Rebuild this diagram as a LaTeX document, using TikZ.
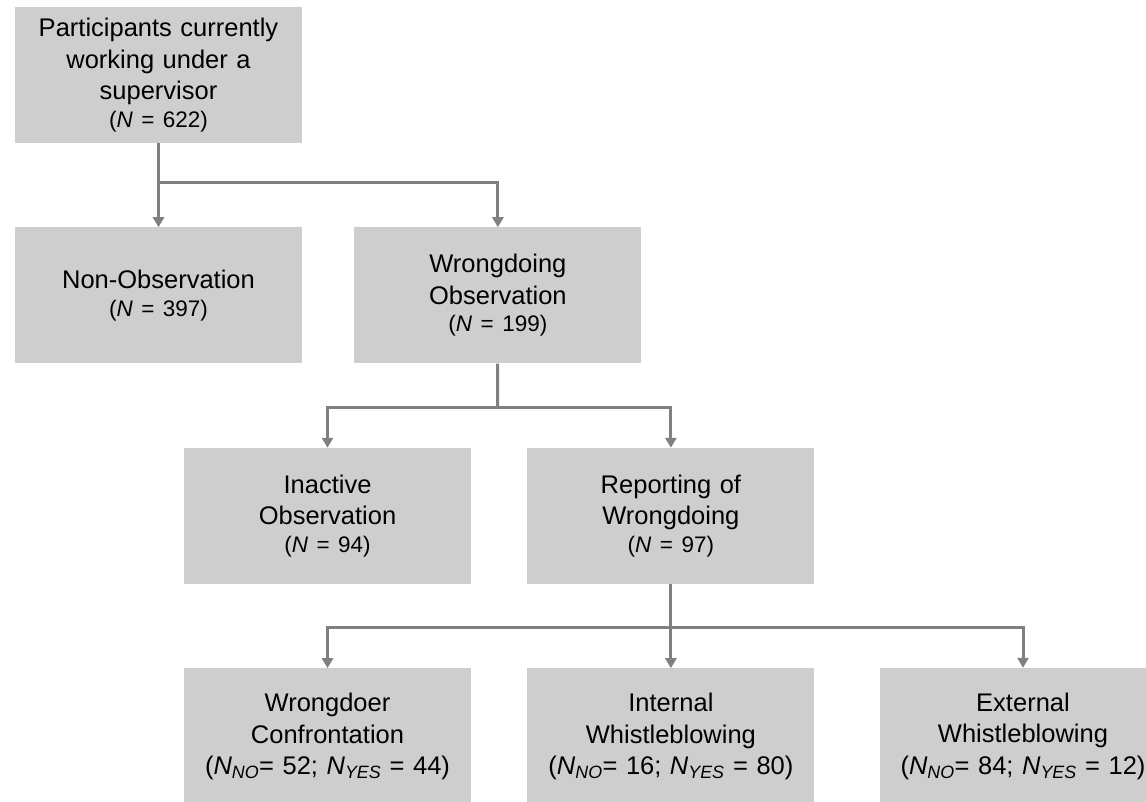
\documentclass[tikz,border=0pt]{standalone}
\usepackage{fontspec}
\setmainfont{Liberation Sans}
\usetikzlibrary{arrows.meta,positioning}

\definecolor{boxgray}{RGB}{207,206,207}
\definecolor{linegray}{RGB}{128,128,128}

\newcommand{\Ncount}[1]{\\[-4pt]{\fontsize{22.5}{27}\selectfont(\textit{N} = #1)}}
\newcommand{\Nsub}[1]{\textit{N}\textsubscript{\textit{#1}}}

\begin{document}
\begin{tikzpicture}[x=1pt, y=-1pt,
      every node/.append style={font=\fontsize{25.5}{31.5}\selectfont},
      trunk/.style={draw=linegray, line width=3pt},
      conn/.style={trunk, -{Triangle[width=11pt,length=10pt]}}]
    \tikzstyle{box} = [fill=boxgray, inner sep=0pt, minimum width=287pt,
      minimum height=136pt, text width=280pt, align=center]
    \useasboundingbox (0,0) rectangle (1146,801);
    \clip (0,0) rectangle (1146,801);
    % boxes
    \node [box] (part) at (158.5,75) {Participants currently\\working under a\\supervisor\Ncount{622}};
    \node [box, below=84pt of part] (nonobs) {Non-Observation\Ncount{397}};
    \node [box, right=52pt of nonobs] (wrongobs) {Wrongdoing\\Observation\Ncount{199}};
    \node [box] (inactive) at (327.5,516) {Inactive\\Observation\Ncount{94}};
    \node [box, right=56pt of inactive] (reporting) {Reporting of\\Wrongdoing\Ncount{97}};
    \node [box, below=84pt of inactive] (confront) {Wrongdoer\\Confrontation\\(\Nsub{NO}= 52; \Nsub{YES} = 44)};
    \node [box, below=84pt of reporting] (internal) {Internal\\Whistleblowing\\(\Nsub{NO}= 16; \Nsub{YES} = 80)};
    \node [box] (external) at (1023,736) {External\\Whistleblowing\\(\Nsub{NO}= 84; \Nsub{YES} = 12)};
    % splits
    \coordinate (split1) at (158.5,182);
    \coordinate (split2) at (497.5,407);
    \coordinate (split3) at (670,627);
    \draw[conn] (part) -- (nonobs);
    \draw[conn] (split1) -| (wrongobs.north);
    \draw[trunk] (wrongobs) -- (split2);
    \draw[conn] (split2) -| (inactive.north);
    \draw[conn] (split2) -| (reporting.north);
    \draw[conn] (reporting) -- (internal);
    \draw[conn] (split3) -| (confront.north);
    \draw[conn] (split3) -| (external.north);
\end{tikzpicture}
\end{document}
